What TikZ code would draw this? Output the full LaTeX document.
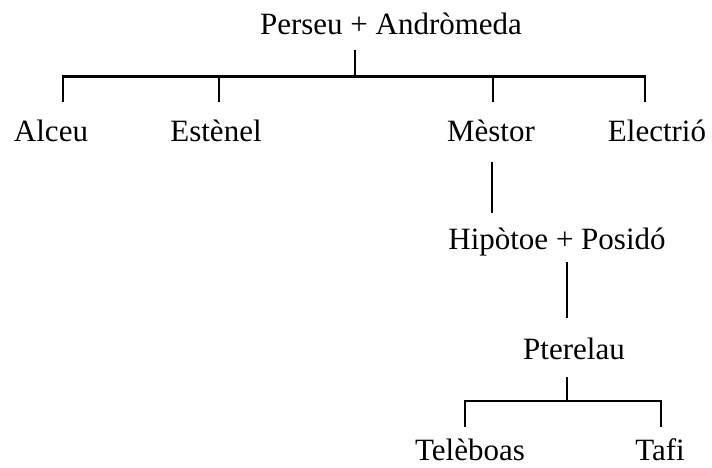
\documentclass[tikz,border=0pt]{standalone}
\usepackage{fontspec}
\setmainfont{Liberation Serif}
\begin{document}
\begin{tikzpicture}[x=1pt,y=-1pt,
  lbl/.style={anchor=base, inner sep=0pt, font=\fontsize{31}{36}\selectfont},
  conn/.style={line width=2.6pt, line cap=butt, line join=miter}]
\useasboundingbox (0,0) rectangle (712,468);
% labels
\node[lbl] (pa)  at (391,35)  {Perseu + Andròmeda};
\node[lbl] (alc) at (51,142)  {Alceu};
\node[lbl] (est) at (216,142) {Estènel};
\node[lbl] (mes) at (491,142) {Mèstor};
\node[lbl] (ele) at (657,142) {Electrió};
\node[lbl] (hip) at (557,249) {Hipòtoe + Posidó};
\node[lbl] (pte) at (574,359) {Pterelau};
\node[lbl] (tel) at (470,460) {Telèboas};
\node[lbl] (taf) at (660,460) {Tafi};
% junction points
\coordinate (pa-d)  at (355,50);
\coordinate (bar0)  at (355,76.5);
\coordinate (alc-u) at (63,102);
\coordinate (est-u) at (219,102);
\coordinate (mes-u) at (493,102);
\coordinate (ele-u) at (645,102);
\coordinate (mes-d) at (492,162);
\coordinate (hip-u) at (492,213);
\coordinate (hip-d) at (567,262);
\coordinate (pte-u) at (567,318);
\coordinate (pte-d) at (567,377);
\coordinate (bar1)  at (567,401);
\coordinate (tel-u) at (465,427);
\coordinate (taf-u) at (661,427);
% connectors
\draw[conn] (pa-d) -- (bar0);
\draw[conn] (alc-u) -- (alc-u |- bar0) -- (ele-u |- bar0) -- (ele-u);
\draw[conn] (est-u) -- (est-u |- bar0);
\draw[conn] (mes-u) -- (mes-u |- bar0);
\draw[conn] (mes-d) -- (hip-u);
\draw[conn] (hip-d) -- (pte-u);
\draw[conn] (pte-d) -- (bar1);
\draw[conn] (tel-u) -- (tel-u |- bar1) -- (taf-u |- bar1) -- (taf-u);
\end{tikzpicture}
\end{document}
